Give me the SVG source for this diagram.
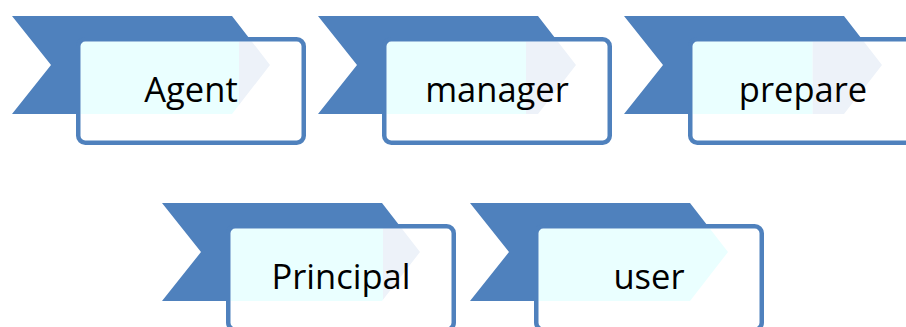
<svg xmlns="http://www.w3.org/2000/svg" xmlns:xlink="http://www.w3.org/1999/xlink" width="906" height="327" viewBox="0 0 906 327">
  <style>
    .chev { fill: #4f81bd; }
    .box-fill { fill: #ffffff; }
    .box-line { fill: none; stroke: #4f81bd; stroke-width: 4.5; }
    .tint { fill: #eaffff; }
    .tip { fill: #edf2f9; }
    .label { font-family: "Open Sans", "Liberation Sans", sans-serif; font-size: 34.5px; fill: #000000; text-anchor: middle; }
  </style>
  <defs>
    <!-- chevron banner behind each card, in the card's local coordinates -->
    <polygon id="chev" points="0,0 220,0 258,49 220,98 0,98 39,49"/>
    <!-- rounded card (stroke centre line) -->
    <rect id="card" x="66.25" y="23.25" width="225.5" height="103.5" rx="7" ry="7"/>
    <clipPath id="chevClip" clipPathUnits="userSpaceOnUse">
      <polygon points="0,0 220,0 258,49 220,98 0,98 39,49"/>
    </clipPath>
    <clipPath id="cardClip" clipPathUnits="userSpaceOnUse">
      <rect x="68.5" y="25.5" width="221" height="99" rx="4.75" ry="4.75"/>
    </clipPath>
  </defs>

  <g id="node-agent" transform="translate(12,16)">
    <use xlink:href="#chev" class="chev"/>
    <use xlink:href="#card" class="box-fill"/>
    <g clip-path="url(#cardClip)">
      <g clip-path="url(#chevClip)">
        <rect class="tint" x="60" y="20" width="167" height="90"/>
        <rect class="tip" x="227" y="20" width="40" height="90"/>
      </g>
    </g>
    <use xlink:href="#card" class="box-line"/>
    <text class="label" x="179" y="86">Agent</text>
  </g>

  <g id="node-manager" transform="translate(318,16)">
    <use xlink:href="#chev" class="chev"/>
    <use xlink:href="#card" class="box-fill"/>
    <g clip-path="url(#cardClip)">
      <g clip-path="url(#chevClip)">
        <rect class="tint" x="60" y="20" width="148" height="90"/>
        <rect class="tip" x="208" y="20" width="59" height="90"/>
      </g>
    </g>
    <use xlink:href="#card" class="box-line"/>
    <text class="label" x="179" y="86">manager</text>
  </g>

  <g id="node-prepare" transform="translate(624,16)">
    <use xlink:href="#chev" class="chev"/>
    <use xlink:href="#card" class="box-fill"/>
    <g clip-path="url(#cardClip)">
      <g clip-path="url(#chevClip)">
        <rect class="tint" x="60" y="20" width="128.7" height="90"/>
        <rect class="tip" x="188.7" y="20" width="78" height="90"/>
      </g>
    </g>
    <use xlink:href="#card" class="box-line"/>
    <text class="label" x="179" y="86">prepare</text>
  </g>

  <g id="node-principal" transform="translate(162,203)">
    <use xlink:href="#chev" class="chev"/>
    <use xlink:href="#card" class="box-fill"/>
    <g clip-path="url(#cardClip)">
      <g clip-path="url(#chevClip)">
        <rect class="tint" x="60" y="20" width="161" height="90"/>
        <rect class="tip" x="221" y="20" width="46" height="90"/>
      </g>
    </g>
    <use xlink:href="#card" class="box-line"/>
    <text class="label" x="179" y="86">Principal</text>
  </g>

  <g id="node-user" transform="translate(470,203)">
    <use xlink:href="#chev" class="chev"/>
    <use xlink:href="#card" class="box-fill"/>
    <g clip-path="url(#cardClip)">
      <g clip-path="url(#chevClip)">
        <rect class="tint" x="60" y="20" width="207" height="90"/>
      </g>
    </g>
    <use xlink:href="#card" class="box-line"/>
    <text class="label" x="179" y="86">user</text>
  </g>
</svg>
